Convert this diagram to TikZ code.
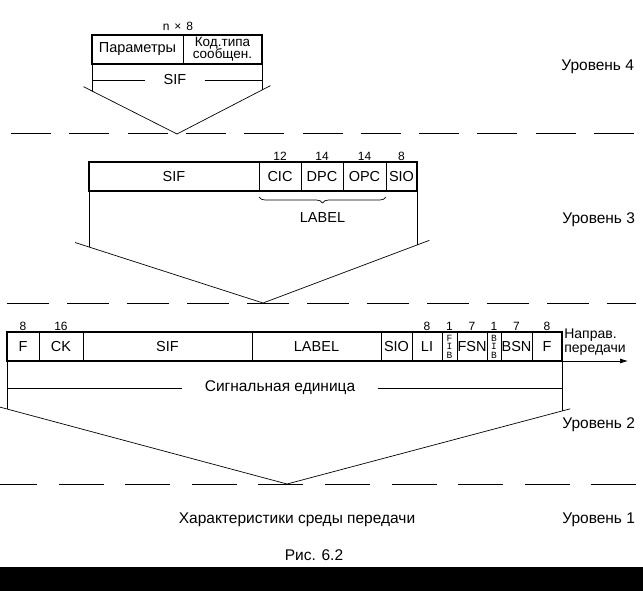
\documentclass[tikz,border=0pt]{standalone}
\usepackage{fontspec}
\setmainfont{Liberation Sans}
\newfontfamily\monofont{Liberation Mono}
\usetikzlibrary{calc,positioning,decorations.pathreplacing,arrows.meta}
\newcommand\cellfont{\fontsize{14.5}{12}\selectfont}
\newcommand\kodfont{\fontsize{13.5}{12}\selectfont\lineskiplimit=-20pt}
\newcommand\rufont{\fontsize{15.5}{14}\selectfont}
\newcommand\bitfont{\fontsize{12}{12}\selectfont}
\newcommand\fibfont{\monofont\fontsize{9.5}{8.5}\selectfont\lineskiplimit=-20pt}
\def\field[#1](#2)(#3:#4:#5)#6{\node[#1, minimum width={(#4-#3)*1pt}] (#2) at ({(#3+#4)/2}, #5) {#6};}

\begin{document}
\begin{tikzpicture}[x=1pt, y=-1pt, line width=0.7pt,
	cell/.style={draw, line width=0.7pt, minimum height=29pt, inner sep=0pt, outer sep=0pt, align=center, font=\cellfont},
	bitcell/.style={cell, font=\fibfont},
	frame/.style={line width=1.8pt},
	bits/.style={inner sep=1pt, font=\bitfont},
	gaplabel/.style={inner xsep=18pt, inner ysep=1pt, font=\cellfont},
	rulabel/.style={inner sep=1pt, font=\rufont},
	levelline/.style={line width=1pt}]
			%%%%% START %%%%%
			\useasboundingbox (0,0) rectangle (643,591);
			
			% level 4
			\field[cell](par)(92:183:49.5){Параметры}
			\field[cell, font=\kodfont](kod)(183:262:49.5){Код.типа\\сообщен.}
			\draw[frame] (par.north west) rectangle (par.south west -| kod.east);
			\node[bits] (nx8) at (178,26) {n\hspace{5pt}×\hspace{5pt}8};
			
			\coordinate (l4a) at (92,91);
			\coordinate (l4b) at (262,90);
			\coordinate (v4) at (177,134);
			\draw (par.south west) -- (l4a);
			\draw (par.south west -| kod.east) -- (l4b);
			\node[gaplabel] (sif4) at (175,80) {SIF};
			\draw (l4a |- sif4) -- (sif4) -- (l4b |- sif4);
			\draw ($(l4a)!-0.1!(v4)$) -- (v4) -- ($(l4b)!-0.1!(v4)$);
			\node[rulabel, anchor=west] (lev4) at (560,67) {Уровень 4};
			
			\draw[levelline, dash pattern=on 40pt off 18.3pt] (11,134) -- (634,134);
			
			% level 3
			\field[cell](sif3)(89:259:176.5){SIF}
			\field[cell](cic)(259:301:176.5){CIC}
			\field[cell](dpc)(301:343:176.5){DPC}
			\field[cell](opc)(343:386:176.5){OPC}
			\field[cell](sio3)(386:417:176.5){SIO}
			\draw[frame] (sif3.north west) rectangle (sio3.south east);
			\foreach \c/\n in {cic/12, dpc/14, opc/14, sio3/8}
				\node[bits, above=0pt of \c] (b\c) {\n};
			\draw[decorate, decoration={brace, mirror, amplitude=6pt}]
				([yshift=-6pt]cic.south west) -- ([yshift=-6pt]opc.south east)
				node[midway, below=12pt, font=\cellfont] (lab3) {LABEL};
			
			\coordinate (l3a) at (89,247);
			\coordinate (l3b) at (417,245);
			\coordinate (v3) at (263,303);
			\draw (sif3.south west) -- (l3a);
			\draw (sio3.south east) -- (l3b);
			\draw ($(l3a)!-0.08!(v3)$) -- (v3) -- ($(l3b)!-0.08!(v3)$);
			\node[rulabel, anchor=west] (lev3) at (561,220) {Уровень 3};
			
			\draw[levelline, dash pattern=on 42pt off 18pt] (7,303) -- (636,303);
			
			% level 2
			\field[cell](f1)(7:39:346.5){F}
			\field[cell](ck)(39:83:346.5){CK}
			\field[cell](sif2)(83:252:346.5){SIF}
			\field[cell](lab2)(252:381:346.5){LABEL}
			\field[cell](sio2)(381:412:346.5){SIO}
			\field[cell](li)(412:442:346.5){LI}
			\field[bitcell](fib)(442:457:346.5){F\\I\\B}
			\field[cell](fsn)(457:487:346.5){FSN}
			\field[bitcell](bib)(487:501:346.5){B\\I\\B}
			\field[cell](bsn)(501:532:346.5){BSN}
			\field[cell](f2)(532:562:346.5){F}
			\draw[frame] (f1.north west) rectangle (f2.south east);
			\foreach \c/\n in {f1/8, ck/16, li/8, fib/1, fsn/7, bib/1, bsn/7, f2/8}
				\node[bits, above=0pt of \c] (b\c) {\n};
			
			\node[inner sep=0pt, anchor=west, align=left, font=\fontsize{14}{14}\selectfont] (napr) at (564,342) {Направ.\\передачи};
			\coordinate (dir) at (628,361);
			\draw[-{Latex[length=8pt, width=5pt]}] (f2.south east) -- (dir);
			
			\coordinate (l2a) at (7,409);
			\coordinate (l2b) at (562,411);
			\coordinate (v2) at (287,484);
			\draw (f1.south west) -- (l2a);
			\draw (f2.south east) -- (l2b);
			\node[rulabel, inner xsep=22pt] (sig) at (280,388) {Сигнальная единица};
			\draw (l2a |- sig) -- (sig) -- (l2b |- sig);
			\draw ($(l2a)!-0.03!(v2)$) -- (v2) -- ($(l2b)!-0.03!(v2)$);
			\node[rulabel, anchor=west] (lev2) at (561,425) {Уровень 2};
			
			\draw[levelline, dash pattern=on 45pt off 21.6pt] (-8,484) -- (641,484);
			
			% level 1
			\node[rulabel] (medium) at (297,520) {Характеристики среды передачи};
			\node[rulabel, anchor=west] (lev1) at (561,520) {Уровень 1};
			\node[rulabel] (cap) at (314,555) {Рис. 6.2};
			
			\fill (0,567) rectangle (643,591);
			%%%%% END %%%%%
\end{tikzpicture}
\end{document}
